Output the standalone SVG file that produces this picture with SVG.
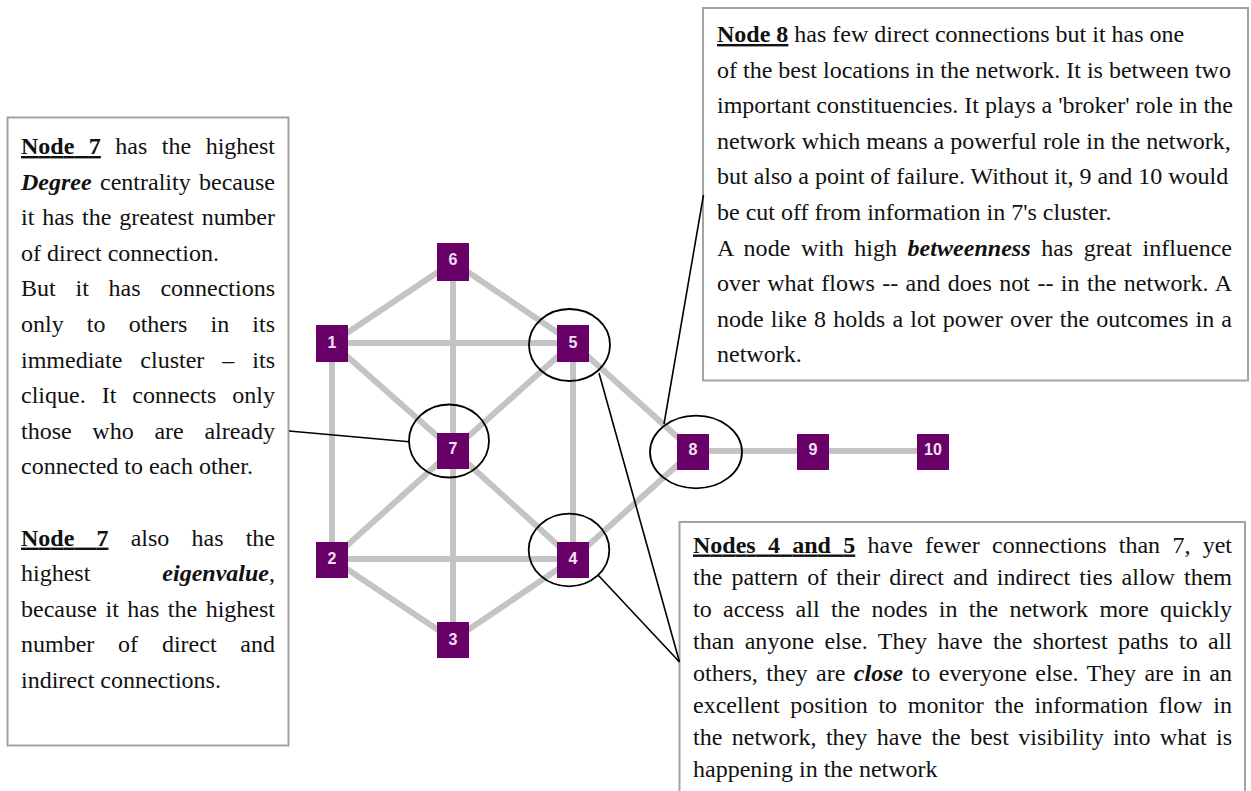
<svg xmlns="http://www.w3.org/2000/svg" width="1251" height="791" viewBox="0 0 1251 791">
<style>
 .box{fill:#fff;stroke:#a3a3a3;stroke-width:2}
 .t{font-family:"Liberation Serif","Times New Roman",serif;font-size:24px;fill:#111}
 .b{font-weight:bold;text-decoration:underline}
 .bi{font-weight:bold;font-style:italic}
 .edge{stroke:#c4c4c4;stroke-width:6;fill:none}
 .lead{stroke:#000;stroke-width:1.6;fill:none}
 .ring{fill:none;stroke:#000;stroke-width:1.8}
 .node rect{fill:#680068}
 .node text{font-family:"Liberation Sans",Arial,sans-serif;font-weight:bold;font-size:16px;fill:#f3e1f3;text-anchor:middle}
</style>
<rect width="1251" height="791" fill="#fff"/>

<g id="edges">
 <line class="edge" x1="332" y1="343" x2="453" y2="262"/>
 <line class="edge" x1="453" y1="262" x2="573" y2="343"/>
 <line class="edge" x1="453" y1="262" x2="453" y2="450"/>
 <line class="edge" x1="332" y1="343" x2="573" y2="343"/>
 <line class="edge" x1="332" y1="343" x2="453" y2="450"/>
 <line class="edge" x1="332" y1="343" x2="332" y2="559"/>
 <line class="edge" x1="573" y1="343" x2="453" y2="450"/>
 <line class="edge" x1="573" y1="343" x2="573" y2="559"/>
 <line class="edge" x1="573" y1="343" x2="693" y2="451"/>
 <line class="edge" x1="453" y1="450" x2="332" y2="559"/>
 <line class="edge" x1="453" y1="450" x2="573" y2="559"/>
 <line class="edge" x1="453" y1="450" x2="453" y2="640"/>
 <line class="edge" x1="332" y1="559" x2="573" y2="559"/>
 <line class="edge" x1="332" y1="559" x2="453" y2="640"/>
 <line class="edge" x1="453" y1="640" x2="573" y2="559"/>
 <line class="edge" x1="573" y1="559" x2="693" y2="451"/>
 <line class="edge" x1="693" y1="451" x2="933" y2="451"/>
</g>

<g id="node1" class="node"><rect x="316" y="325" width="32" height="37"/><text x="332" y="348">1</text></g>
<g id="node2" class="node"><rect x="316" y="542" width="32" height="36"/><text x="332" y="564">2</text></g>
<g id="node3" class="node"><rect x="437" y="622" width="32" height="36"/><text x="453" y="645">3</text></g>
<g id="node4" class="node"><rect x="557" y="542" width="32" height="36"/><text x="573" y="564">4</text></g>
<g id="node5" class="node"><rect x="557" y="325" width="32" height="37"/><text x="573" y="348">5</text></g>
<g id="node6" class="node"><rect x="437" y="243" width="32" height="38"/><text x="453" y="265">6</text></g>
<g id="node7" class="node"><rect x="437" y="433" width="32" height="36"/><text x="453" y="454">7</text></g>
<g id="node8" class="node"><rect x="677" y="434" width="32" height="36"/><text x="693" y="455">8</text></g>
<g id="node9" class="node"><rect x="797" y="434" width="32" height="36"/><text x="813" y="455">9</text></g>
<g id="node10" class="node"><rect x="917" y="434" width="32" height="36"/><text x="933" y="455">10</text></g>

<g id="highlights">
 <ellipse class="ring" cx="449" cy="441" rx="40" ry="36.5"/>
 <ellipse class="ring" cx="569.5" cy="345" rx="40.5" ry="36"/>
 <ellipse class="ring" cx="569" cy="550" rx="40.3" ry="36.3"/>
 <ellipse class="ring" cx="696" cy="452" rx="46" ry="36.3"/>
</g>

<g id="box-left">
 <rect class="box" x="7.5" y="117.5" width="281" height="628"/>
 <text class="t" x="21" y="154" textLength="254" lengthAdjust="spacing" style="word-spacing:8.5px"><tspan class="b">Node 7</tspan> has the highest</text>
 <text class="t" x="21" y="189.6" textLength="254" lengthAdjust="spacing" style="word-spacing:2.4px"><tspan class="bi">Degree</tspan> centrality because</text>
 <text class="t" x="21" y="225.2" textLength="254" lengthAdjust="spacing" style="word-spacing:1.8px">it has the greatest number</text>
 <text class="t" x="21" y="260.8">of direct connection.</text>
 <text class="t" x="21" y="296.4" textLength="254" lengthAdjust="spacing" style="word-spacing:13.8px">But it has connections</text>
 <text class="t" x="21" y="332" textLength="254" lengthAdjust="spacing" style="word-spacing:17.2px">only to others in its</text>
 <text class="t" x="21" y="367.6" textLength="254" lengthAdjust="spacing" style="word-spacing:12px">immediate cluster – its</text>
 <text class="t" x="21" y="403.2" textLength="254" lengthAdjust="spacing" style="word-spacing:10px">clique. It connects only</text>
 <text class="t" x="21" y="438.8" textLength="254" lengthAdjust="spacing" style="word-spacing:14.7px">those who are already</text>
 <text class="t" x="21" y="474.4">connected to each other.</text>
 <text class="t" x="21" y="545.6" textLength="254" lengthAdjust="spacing" style="word-spacing:16.2px"><tspan class="b">Node 7</tspan> also has the</text>
 <text class="t" x="21" y="581.2" textLength="254" lengthAdjust="spacing" style="word-spacing:66px">highest <tspan class="bi">eigenvalue</tspan>,</text>
 <text class="t" x="21" y="616.8" textLength="254" lengthAdjust="spacing" style="word-spacing:2.5px">because it has the highest</text>
 <text class="t" x="21" y="652.4" textLength="254" lengthAdjust="spacing" style="word-spacing:17.8px">number of direct and</text>
 <text class="t" x="21" y="688">indirect connections.</text>
</g>

<g id="box-top-right">
 <rect class="box" x="703" y="8" width="545" height="372.5"/>
 <text class="t" x="717" y="42"><tspan class="b">Node 8</tspan> has few direct connections but it has one</text>
 <text class="t" x="717" y="77.6">of the best locations in the network. It is between two</text>
 <text class="t" x="717" y="113.2">important constituencies. It plays a 'broker' role in the</text>
 <text class="t" x="717" y="148.8">network which means a powerful role in the network,</text>
 <text class="t" x="717" y="184.4">but also a point of failure. Without it, 9 and 10 would</text>
 <text class="t" x="717" y="220">be cut off from information in 7's cluster.</text>
 <text class="t" x="717" y="255.6" textLength="515" lengthAdjust="spacing" style="word-spacing:4.5px">A node with high <tspan class="bi">betweenness</tspan> has great influence</text>
 <text class="t" x="717" y="291.2" textLength="515" lengthAdjust="spacing" style="word-spacing:1.4px">over what flows -- and does not -- in the network. A</text>
 <text class="t" x="717" y="326.8" textLength="515" lengthAdjust="spacing" style="word-spacing:1.2px">node like 8 holds a lot power over the outcomes in a</text>
 <text class="t" x="717" y="362.4">network.</text>
</g>

<g id="box-bottom-right">
 <rect class="box" x="679.5" y="522" width="565.5" height="280"/>
 <text class="t" x="693" y="552.5" textLength="539" lengthAdjust="spacing" style="word-spacing:6.3px"><tspan class="b">Nodes 4 and 5</tspan> have fewer connections than 7, yet</text>
 <text class="t" x="693" y="584.5" textLength="539" lengthAdjust="spacing" style="word-spacing:3.1px">the pattern of their direct and indirect ties allow them</text>
 <text class="t" x="693" y="616.5" textLength="539" lengthAdjust="spacing" style="word-spacing:5.3px">to access all the nodes in the network more quickly</text>
 <text class="t" x="693" y="648.5" textLength="539" lengthAdjust="spacing" style="word-spacing:4.3px">than anyone else. They have the shortest paths to all</text>
 <text class="t" x="693" y="680.5" textLength="539" lengthAdjust="spacing" style="word-spacing:2.4px">others, they are <tspan class="bi">close</tspan> to everyone else. They are in an</text>
 <text class="t" x="693" y="712.5" textLength="539" lengthAdjust="spacing" style="word-spacing:4.7px">excellent position to monitor the information flow in</text>
 <text class="t" x="693" y="744.5" textLength="539" lengthAdjust="spacing" style="word-spacing:3.4px">the network, they have the best visibility into what is</text>
 <text class="t" x="693" y="776.5">happening in the network</text>
</g>

<g id="connectors">
 <line class="lead" x1="289" y1="431" x2="409" y2="441.7"/>
 <line class="lead" x1="703.5" y1="195" x2="664" y2="424"/>
 <line class="lead" x1="599" y1="373" x2="679.5" y2="662"/>
 <line class="lead" x1="598" y1="575" x2="679.5" y2="662"/>
</g>
</svg>
